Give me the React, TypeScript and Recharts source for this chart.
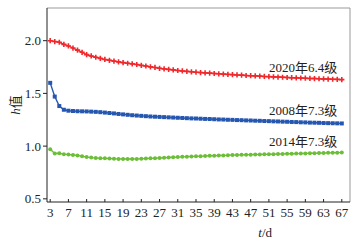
import {
  LineChart,
  Line,
  XAxis,
  YAxis,
  ReferenceLine,
  ReferenceDot,
} from "recharts";

const days = [
  3, 4, 5, 6, 7, 8, 9, 10, 11, 12, 13, 14, 15, 16, 17, 18, 19, 20, 21, 22,
  23, 24, 25, 26, 27, 28, 29, 30, 31, 32, 33, 34, 35, 36, 37, 38, 39, 40, 41,
  42, 43, 44, 45, 46, 47, 48, 49, 50, 51, 52, 53, 54, 55, 56, 57, 58, 59, 60,
  61, 62, 63, 64, 65, 66, 67,
];

// 2020年6.4级
const h2020 = [
  2.0, 1.992, 1.985, 1.965, 1.95, 1.93, 1.91, 1.89, 1.868, 1.855,
  1.843, 1.832, 1.822, 1.814, 1.806, 1.799, 1.792, 1.786, 1.78, 1.774,
  1.766, 1.76, 1.752, 1.746, 1.738, 1.733, 1.728, 1.723, 1.717, 1.713,
  1.709, 1.705, 1.701, 1.698, 1.695, 1.692, 1.689, 1.686, 1.683, 1.68,
  1.678, 1.675, 1.673, 1.67, 1.668, 1.666, 1.664, 1.661, 1.659, 1.657,
  1.655, 1.653, 1.651, 1.649, 1.647, 1.646, 1.644, 1.642, 1.641, 1.639,
  1.637, 1.636, 1.634, 1.633, 1.631,
];

// 2008年7.3级
const h2008 = [
  1.6, 1.47, 1.38, 1.345, 1.336, 1.333, 1.331, 1.33, 1.329, 1.327,
  1.325, 1.322, 1.318, 1.314, 1.31, 1.305, 1.301, 1.297, 1.293, 1.29,
  1.287, 1.284, 1.281, 1.279, 1.277, 1.275, 1.273, 1.271, 1.269, 1.267,
  1.265, 1.263, 1.262, 1.26, 1.258, 1.257, 1.255, 1.253, 1.252, 1.25,
  1.249, 1.247, 1.246, 1.244, 1.243, 1.241, 1.24, 1.238, 1.237, 1.235,
  1.234, 1.232, 1.231, 1.229, 1.228, 1.226, 1.225, 1.223, 1.222, 1.221,
  1.219, 1.218, 1.217, 1.216, 1.215,
];

// 2014年7.3级
const h2014 = [
  0.97, 0.93, 0.932, 0.924, 0.921, 0.916, 0.912, 0.904, 0.896, 0.891,
  0.888, 0.886, 0.884, 0.882, 0.88, 0.879, 0.878, 0.878, 0.878, 0.879,
  0.88, 0.882, 0.884, 0.886, 0.888, 0.89, 0.892, 0.894, 0.896, 0.898,
  0.9, 0.902, 0.903, 0.905, 0.906, 0.908, 0.909, 0.911, 0.912, 0.913,
  0.915, 0.916, 0.917, 0.918, 0.919, 0.92, 0.921, 0.922, 0.923, 0.924,
  0.925, 0.926, 0.927, 0.928, 0.929, 0.93, 0.931, 0.932, 0.933, 0.934,
  0.935, 0.936, 0.937, 0.938, 0.939,
];

const xTicks = [3, 7, 11, 15, 19, 23, 27, 31, 35, 39, 43, 47, 51, 55, 59, 63, 67];
const yTicks = [0.5, 1.0, 1.5, 2.0];

const labels = [
  { name: "2020年6.4级", x: 66, y: 1.745 },
  { name: "2008年7.3级", x: 66, y: 1.338 },
  { name: "2014年7.3级", x: 66, y: 1.045 },
];

const data = days.map((d, i) => ({
  t: d,
  a: h2020[i],
  b: h2008[i],
  c: h2014[i],
}));

const RED = "#f0282c";
const BLUE = "#2657b0";
const GREEN = "#6cbd38";
const FONT = "'Liberation Serif', 'Noto Sans CJK SC', serif";

function PlusDot(p: any) {
  const { cx, cy } = p;
  if (cx == null || cy == null) return null;
  return (
    <path
      d={`M${cx - 2.6},${cy}H${cx + 2.6}M${cx},${cy - 2.6}V${cy + 2.6}`}
      stroke={RED}
      strokeWidth={1.6}
    />
  );
}

function SquareDot(p: any) {
  const { cx, cy } = p;
  if (cx == null || cy == null) return null;
  return <rect x={cx - 2} y={cy - 2} width={4} height={4} fill={BLUE} />;
}

function RoundDot(p: any) {
  const { cx, cy } = p;
  if (cx == null || cy == null) return null;
  return <circle cx={cx} cy={cy} r={2} fill={GREEN} />;
}

function SeriesLabel(props: any) {
  const { viewBox, value } = props;
  return (
    <text
      x={viewBox.x}
      y={viewBox.y}
      textAnchor="end"
      dominantBaseline="central"
      fontSize={13}
      fontFamily={FONT}
      fill="#222"
    >
      {value}
    </text>
  );
}

function YTitle(props: any) {
  const { viewBox } = props;
  const x = viewBox.x + 8;
  const y = viewBox.y + viewBox.height / 2;
  return (
    <text
      x={x}
      y={y}
      transform={`rotate(-90 ${x} ${y})`}
      textAnchor="middle"
      dominantBaseline="central"
      fontSize={13}
      fontFamily={FONT}
      fill="#222"
    >
      <tspan fontStyle="italic">h</tspan>值
    </text>
  );
}

function XTitle(props: any) {
  const { viewBox } = props;
  return (
    <text
      x={viewBox.x + viewBox.width * 0.72}
      y={viewBox.y + 30}
      textAnchor="middle"
      dominantBaseline="central"
      fontSize={13}
      fontFamily={FONT}
      fill="#222"
    >
      <tspan fontStyle="italic">t</tspan>/d
    </text>
  );
}

export default function App() {
  const tickStyle = { fontSize: 13, fontFamily: FONT, fill: "#222" };
  return (
    <div style={{ position: "absolute", left: 0, top: 0, background: "#fff" }}>
      <LineChart
        width={360}
        height={244}
        data={data}
        margin={{ top: 8, right: 10, bottom: 0, left: 7 }}
      >
        <XAxis
          dataKey="t"
          type="number"
          domain={[2.3, 68.8]}
          ticks={xTicks}
          interval={0}
          height={42}
          tickSize={-3}
          tickMargin={9}
          stroke="#222"
          tick={tickStyle}
          label={<XTitle />}
        />
        <YAxis
          type="number"
          domain={[0.47, 2.31]}
          ticks={yTicks}
          tickFormatter={(v: number) => v.toFixed(1)}
          width={40}
          tickSize={4}
          tickMargin={2}
          stroke="#222"
          tick={tickStyle}
          label={<YTitle />}
        />
        <ReferenceLine y={2.31} stroke="#999" strokeWidth={1} />
        <ReferenceLine x={68.8} stroke="#999" strokeWidth={1} />
        <Line
          dataKey="a"
          stroke={RED}
          strokeWidth={1.4}
          dot={<PlusDot />}
          isAnimationActive={false}
        />
        <Line
          dataKey="b"
          stroke={BLUE}
          strokeWidth={1.4}
          dot={<SquareDot />}
          isAnimationActive={false}
        />
        <Line
          dataKey="c"
          stroke={GREEN}
          strokeWidth={1.4}
          dot={<RoundDot />}
          isAnimationActive={false}
        />
        {labels.map((l) => (
          <ReferenceDot
            key={l.name}
            x={l.x}
            y={l.y}
            r={0}
            fill="none"
            stroke="none"
            label={<SeriesLabel value={l.name} />}
          />
        ))}
      </LineChart>
    </div>
  );
}
